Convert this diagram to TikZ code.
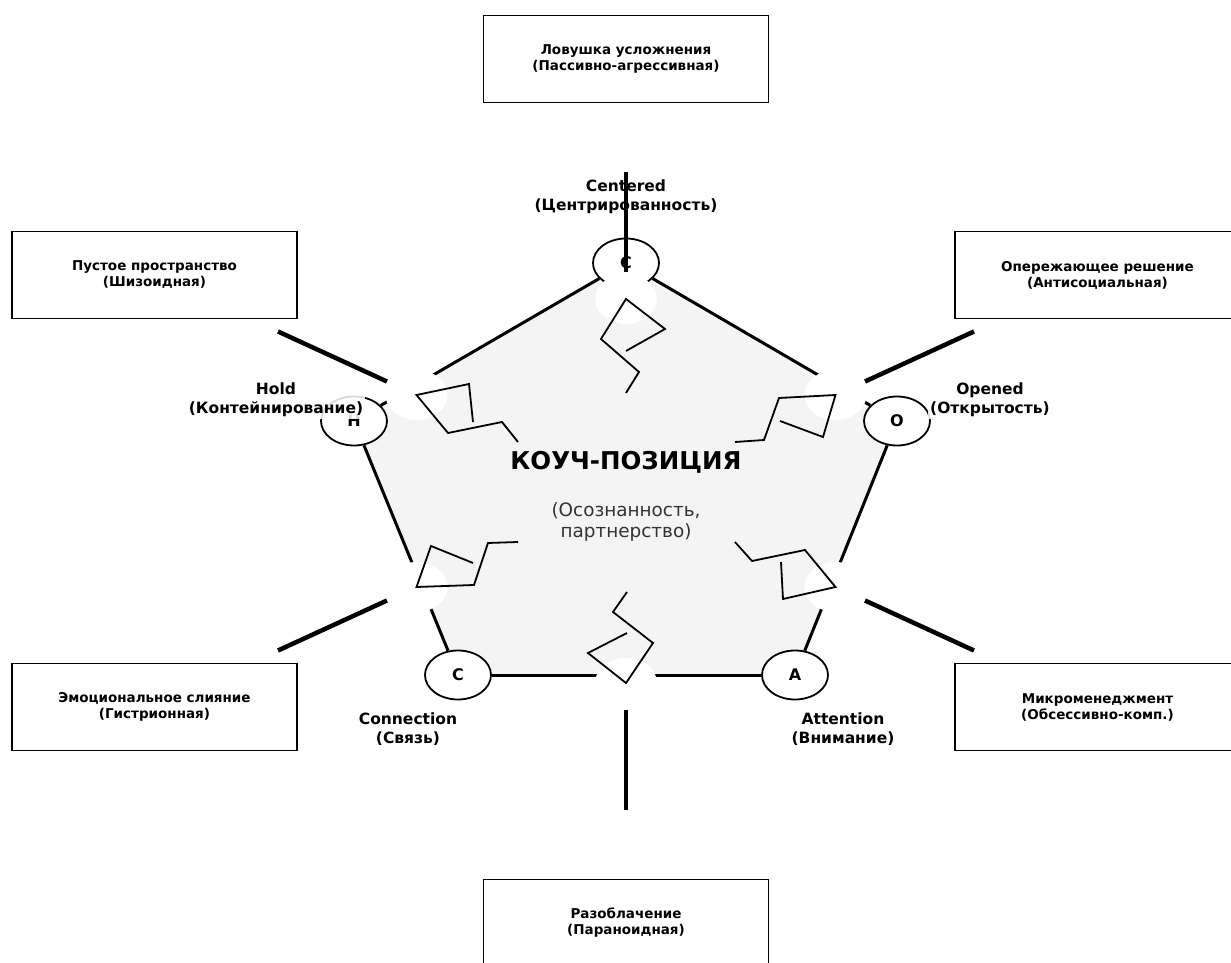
\documentclass[tikz,border=0pt]{standalone}
\usepackage{fontspec}
\setmainfont{DejaVu Sans}
\usetikzlibrary{shapes}
\definecolor{padgray}{HTML}{F4F4F4}
\definecolor{subgray}{HTML}{333333}

\begin{document}
\begin{tikzpicture}[x=1pt,y=1pt,line join=miter]
  \tikzstyle{pole}=[ellipse,draw,fill=white,line width=1.8pt,minimum width=66pt,
                    minimum height=49pt,inner sep=0pt,font=\fontsize{16}{18}\selectfont\bfseries]
  \tikzstyle{rim}=[line width=3pt]
  \tikzstyle{spoke}=[line width=4.5pt]
  \tikzstyle{zig}=[line width=1.8pt]
  \tikzstyle{poletag}=[align=center,fill=white,fill opacity=0.85,text opacity=1,inner sep=2pt,
                       font=\fontsize{15.5}{19}\selectfont\bfseries]
  \tikzstyle{trapbox}=[draw,fill=white,line width=1.5pt,minimum width=285pt,minimum height=87pt,
                       align=center,font=\fontsize{13.5}{16}\selectfont\bfseries]

  \useasboundingbox (-626,-472) rectangle (605,491);

  % pentagon
  \coordinate (v90)  at (0,228);
  \coordinate (v162) at (-272,70);
  \coordinate (v18)  at (271,70);
  \coordinate (v234) at (-168,-184);
  \coordinate (v306) at (169,-184);
  \fill[padgray] (v90) -- (v162) -- (v234) -- (v306) -- (v18) -- cycle;

  \node[pole] (ctr) at (v90)  {C};
  \node[pole] (hld) at (v162) {H};
  \node[pole] (opn) at (v18)  {O};
  \node[pole] (cnx) at (v234) {C};
  \node[pole] (att) at (v306) {A};

  \draw[rim] (ctr) -- (hld);
  \draw[rim] (ctr) -- (opn);
  \draw[rim] (hld) -- (cnx);
  \draw[rim] (opn) -- (att);
  \draw[rim] (cnx) -- (att);

  % holes
  \coordinate (h90)  at (0,192);
  \coordinate (h150) at (-209.5,96);
  \coordinate (h30)  at (209.5,96);
  \coordinate (h210) at (-209.5,-96);
  \coordinate (h330) at (209.5,-96);
  \coordinate (h270) at (0,-192);
  \fill[white] (h90)  ellipse [x radius=31,y radius=25];
  \fill[white] (h150) ellipse [x radius=31,y radius=25];
  \fill[white] (h30)  ellipse [x radius=31,y radius=25];
  \fill[white] (h210) ellipse [x radius=31,y radius=25];
  \fill[white] (h330) ellipse [x radius=31,y radius=25];
  \fill[white] (h270) ellipse [x radius=31,y radius=25];

  % zigzags
  \draw[zig] (0,98) -- (13,119) -- (-25,152) -- (h90) -- (39,162) -- (0,140);
  \draw[zig] (-108,49) -- (-124,69) -- (-178,58) -- (h150) -- (-157,107) -- (-153,69);
  \draw[zig] (109,49) -- (138,51) -- (153,93) -- (h30) -- (197,54) -- (154,70);
  \draw[zig] (-108,-51) -- (-138,-52) -- (-152,-94) -- (h210) -- (-195,-55) -- (-153,-72);
  \draw[zig] (109,-51) -- (126,-70) -- (179,-59) -- (h330) -- (157,-108) -- (155,-71);
  \draw[zig] (1,-101) -- (-13,-121) -- (27,-152) -- (h270) -- (-38,-162) -- (1,-142);

  % labels
  \node[poletag] (lctr) at (0,294)     {Centered\\(Центрированность)};
  \node[poletag] (lhld) at (-350,91)   {Hold\\(Контейнирование)};
  \node[poletag] (lopn) at (364,91)    {Opened\\(Открытость)};
  \node[poletag] (lcnx) at (-218,-238) {Connection\\(Связь)};
  \node[poletag] (latt) at (217,-238)  {Attention\\(Внимание)};

  % spokes
  \coordinate (i90)  at (0,219);      \coordinate (o90)  at (0,319);
  \coordinate (i150) at (-239,109.5); \coordinate (o150) at (-348,159.5);
  \coordinate (i30)  at (239,109.5);  \coordinate (o30)  at (348,159.5);
  \coordinate (i210) at (-239,-109.5);\coordinate (o210) at (-348,-159.5);
  \coordinate (i330) at (239,-109.5); \coordinate (o330) at (348,-159.5);
  \coordinate (i270) at (0,-219);     \coordinate (o270) at (0,-319);
  \draw[spoke] (i90) -- (o90);
  \draw[spoke] (i150) -- (o150);
  \draw[spoke] (i30) -- (o30);
  \draw[spoke] (i210) -- (o210);
  \draw[spoke] (i330) -- (o330);
  \draw[spoke] (i270) -- (o270);

  % traps
  \node[trapbox] (t90)  at (0,432)       {Ловушка усложнения\\(Пассивно-агрессивная)};
  \node[trapbox] (t150) at (-471.5,216)  {Пустое пространство\\(Шизоидная)};
  \node[trapbox] (t30)  at (471.5,216)   {Опережающее решение\\(Антисоциальная)};
  \node[trapbox] (t210) at (-471.5,-216) {Эмоциональное слияние\\(Гистрионная)};
  \node[trapbox] (t330) at (471.5,-216)  {Микроменеджмент\\(Обсессивно-комп.)};
  \node[trapbox] (t270) at (0,-432)      {Разоблачение\\(Параноидная)};

  % centre
  \node[font=\fontsize{24.5}{28}\selectfont\bfseries] (core) at (0,29) {КОУЧ-ПОЗИЦИЯ};
  \node[align=center,text=subgray,font=\fontsize{18.4}{21}\selectfont] (coresub) at (0,-31)
       {(Осознанность,\\партнерство)};
\end{tikzpicture}
\end{document}
